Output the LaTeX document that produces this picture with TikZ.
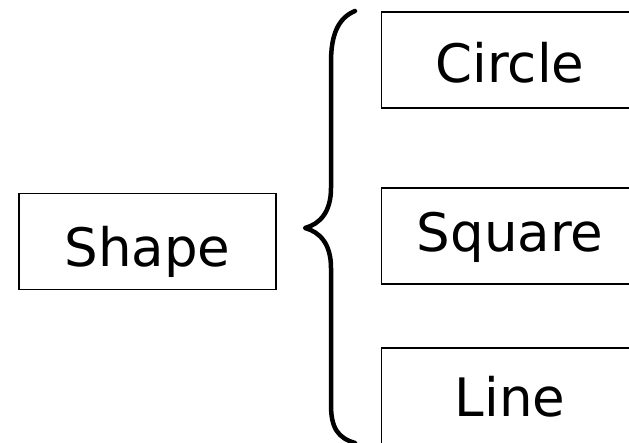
\documentclass[tikz,border=0pt]{standalone}
\usepackage{fontspec}
\setmainfont{DejaVu Sans}
\usetikzlibrary{calc}

\begin{document}
\begin{tikzpicture}
      [x=1pt, y=-1pt,
       box/.style={draw, line width=1.2pt, minimum width=257pt, minimum height=96pt,
                   inner sep=0pt, font=\fontsize{53}{60}\selectfont}]
      \useasboundingbox (0,0) rectangle (629,443);

      % nodes %
      \node[box, text height=51pt, text depth=0pt] (shape) at (147.5,241.5) {Shape};
      \node[box, text height=46pt, text depth=0pt] (circle) at (510,60) {Circle};
      \node[box, text height=44pt, text depth=12pt] (square) at (510,236) {Square};
      \node[box, text height=42pt, text depth=0pt] (line) at (510,396) {Line};

      % brace %
      \coordinate (top) at (355,11);
      \coordinate (tip) at (305,228);
      \coordinate (bot) at (355,443);
      \draw[line width=4.5pt, line cap=round, line join=round]
        (top) .. controls (338,18) and (331,35) .. (331,62) -- (331,188)
        .. controls (331,212) and (320,224) .. (tip)
        .. controls (320,232) and (331,244) .. (331,268) -- (331,405)
        .. controls (331,428) and (338,438) .. (bot);

    \end{tikzpicture}
\end{document}
